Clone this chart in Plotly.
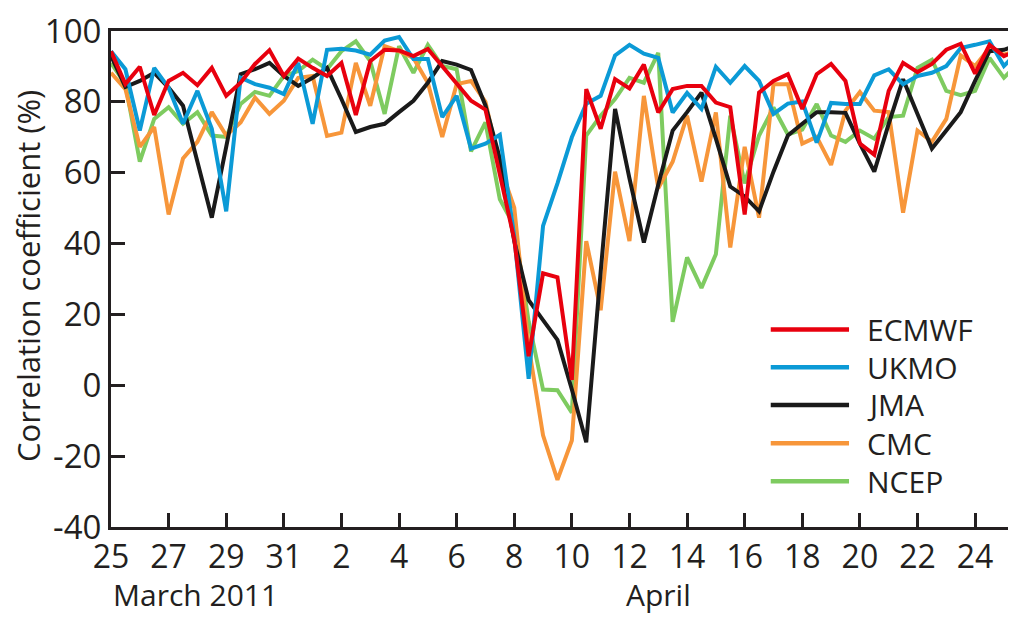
import plotly.graph_objects as go

# time axis: days after 25 March 2011, every 12 hours
days = [i * 0.5 for i in range(64)]

ecmwf = [94.3, 85.0, 89.9, 76.3, 85.9, 88.2, 84.7, 89.6, 81.7, 85.4, 90.7, 94.6, 87.3, 92.2, 89.6, 87.3,
         91.0, 76.3, 91.5, 94.7, 94.5, 92.9, 94.9, 90.1, 85.0, 80.3, 77.8, 60.0, 41.2, 8.2, 31.6, 30.5,
         1.5, 83.6, 72.4, 86.4, 83.8, 90.5, 77.0, 83.6, 84.5, 84.5, 79.8, 78.5, 48.2, 82.6, 85.9, 87.8,
         78.0, 87.8, 90.7, 85.9, 68.2, 65.1, 83.1, 91.0, 88.4, 90.7, 94.7, 96.4, 88.0, 96.1, 92.9, 94.7]

ukmo = [94.3, 89.2, 71.9, 89.6, 84.0, 73.8, 83.1, 72.4, 49.1, 86.8, 85.0, 84.0, 82.2, 91.0, 73.8, 94.7,
        95.0, 94.5, 93.3, 97.3, 98.3, 92.1, 92.1, 75.7, 81.7, 66.8, 68.2, 70.7, 42.0, 1.8, 45.0, 57.0,
        70.0, 79.5, 81.7, 93.1, 96.1, 93.6, 92.4, 77.0, 82.5, 78.0, 89.9, 85.4, 90.1, 85.9, 76.6, 79.5,
        80.1, 68.5, 79.7, 79.4, 79.4, 87.5, 89.2, 85.0, 87.3, 88.2, 90.1, 95.2, 96.1, 97.1, 90.1, 94.3]

jma = [93.0, 84.2, 85.9, 88.2, 84.0, 78.9, 63.1, 47.3, 67.3, 87.8, 89.2, 91.0, 87.3, 84.5, 86.8, 89.6,
       80.8, 71.5, 72.9, 73.8, 77.1, 80.3, 85.4, 91.5, 90.5, 89.0, 79.0, 64.0, 40.7, 24.0, 18.4, 12.8,
       -1.2, -16.1, 32.0, 78.0, 58.4, 40.3, 56.6, 71.9, 77.1, 82.6, 69.6, 56.1, 53.3, 49.1, 60.3, 70.5,
       73.8, 77.1, 77.1, 76.9, 68.2, 60.3, 73.8, 86.4, 76.6, 66.8, 71.9, 77.1, 85.9, 94.3, 94.7, 96.1]

cmc = [88.2, 83.6, 67.3, 72.9, 48.2, 64.0, 68.7, 77.1, 70.5, 74.2, 81.2, 76.6, 80.3, 86.8, 87.3, 70.4,
       71.3, 91.0, 78.9, 95.7, 94.3, 92.4, 85.4, 70.1, 85.0, 85.9, 80.0, 62.0, 50.1, 11.0, -14.1, -26.7,
       -15.6, 40.7, 21.2, 60.3, 40.7, 81.7, 55.6, 63.1, 76.1, 57.5, 77.0, 38.9, 67.3, 47.3, 85.0, 85.0,
       68.2, 70.1, 62.2, 77.5, 82.8, 77.5, 77.1, 48.7, 71.9, 68.7, 75.2, 93.1, 90.1, 95.2, 93.3, 94.7]

ncep = [91.0, 85.0, 63.1, 75.2, 78.5, 73.8, 77.1, 70.5, 70.1, 79.4, 82.8, 81.7, 87.3, 88.7, 91.9, 89.2,
        94.3, 97.1, 91.5, 76.6, 95.7, 88.2, 96.1, 90.1, 89.2, 66.0, 74.2, 52.5, 45.0, 18.0, -1.2, -1.4,
        -7.7, 70.5, 76.1, 80.8, 86.8, 85.4, 93.8, 17.9, 36.1, 27.5, 37.0, 76.1, 57.0, 70.5, 78.4, 70.8,
        72.2, 79.4, 70.5, 68.7, 71.9, 69.6, 75.7, 76.1, 89.6, 91.9, 83.1, 81.9, 83.1, 92.4, 86.8, 91.0]

series_names = ["ECMWF", "UKMO", "JMA", "CMC", "NCEP"]
series_values = [ecmwf, ukmo, jma, cmc, ncep]
colors = ["#E8000E", "#0B9AD6", "#1A1A1A", "#F7963A", "#7ECB60"]

x_tick_vals = list(range(0, 31, 2))
x_tick_text = ["25", "27", "29", "31", "2", "4", "6", "8", "10", "12", "14", "16", "18", "20", "22", "24"]
y_tick_vals = [-40, -20, 0, 20, 40, 60, 80, 100]
y_tick_text = ["-40", "-20", "0", "20", "40", "60", "80", "100"]
month_labels = ["March 2011", "April"]
month_pos = [2.95, 19.0]

FONT = "Open Sans"
TXT = "#231F20"

fig = go.Figure()
# draw in reverse so ECMWF is on top
for name, vals, col in reversed(list(zip(series_names, series_values, colors))):
    fig.add_trace(go.Scatter(x=days, y=vals, mode="lines", name=name,
                             line=dict(color=col, width=4), showlegend=False))

# manual legend (long line samples like the original)
leg_y = [0.398, 0.322, 0.246, 0.169, 0.092]
for name, col, yy in zip(series_names, colors, leg_y):
    fig.add_shape(type="line", xref="paper", yref="paper", x0=0.729, x1=0.8155, y0=yy, y1=yy,
                  line=dict(color=col, width=4.5))
    fig.add_annotation(xref="paper", yref="paper", x=0.833, y=yy, text=name, showarrow=False,
                       xanchor="left", yanchor="middle", font=dict(family=FONT, size=30, color=TXT))

for lab, pos in zip(month_labels, month_pos):
    fig.add_annotation(xref="x", yref="paper", x=pos, y=-0.181, text=lab, showarrow=False,
                       xanchor="center", yanchor="bottom", font=dict(family=FONT, size=30, color=TXT))

fig.add_annotation(xref="paper", yref="paper", x=-0.0917, y=0.506, text="Correlation coefficient (%)",
                   textangle=-90, showarrow=False, xanchor="center", yanchor="middle",
                   font=dict(family=FONT, size=31, color=TXT))

fig.update_layout(
    width=1008, height=610,
    margin=dict(l=103, r=0, t=16, b=91),
    paper_bgcolor="white", plot_bgcolor="white",
    font=dict(family=FONT, color=TXT),
    xaxis=dict(range=[0, 31.42], tickmode="array", tickvals=x_tick_vals, ticktext=x_tick_text,
               ticks="inside", ticklen=14, tickwidth=2.5, tickcolor=TXT,
               showline=True, linecolor=TXT, linewidth=3, mirror=True,
               showgrid=False, zeroline=False, tickfont=dict(size=32, family=FONT, color=TXT)),
    yaxis=dict(range=[-40, 100], tickmode="array", tickvals=y_tick_vals, ticktext=y_tick_text,
               ticks="inside", ticklen=14, tickwidth=2.5, tickcolor=TXT,
               showline=True, linecolor=TXT, linewidth=3, mirror=False,
               showgrid=False, zeroline=False, tickfont=dict(size=33, family=FONT, color=TXT),
               ticklabelstandoff=0, ticklabeloverflow="allow"),
)

fig.write_html("out.html")
